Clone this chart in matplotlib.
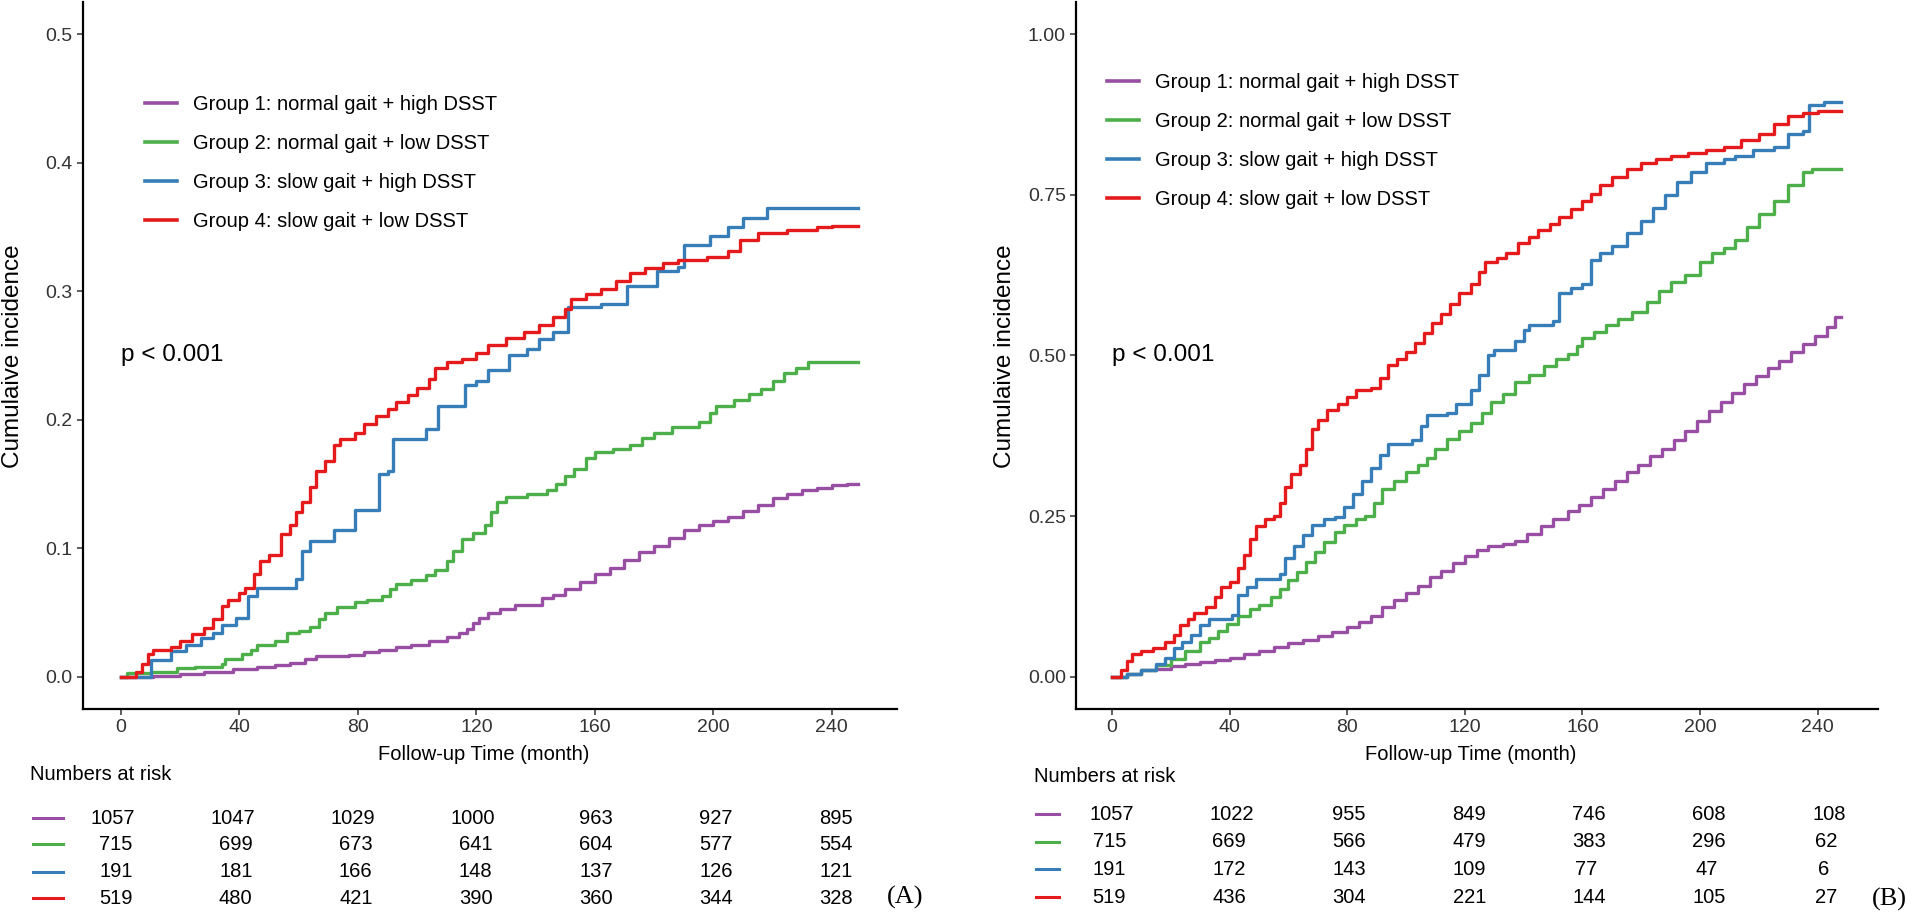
import matplotlib
matplotlib.use('Agg')
import matplotlib.pyplot as plt
from matplotlib.lines import Line2D
from matplotlib.ticker import FormatStrFormatter

plt.rcParams['font.family'] = ['Liberation Sans', 'DejaVu Sans']

# ---------------- data ----------------
group_labels = ['Group 1: normal gait + high DSST',
                'Group 2: normal gait + low DSST',
                'Group 3: slow gait + high DSST',
                'Group 4: slow gait + low DSST']
colors = ['#984EA3', '#4DAF4A', '#377EB8', '#E41A1C']
table_times = [0, 40, 80, 120, 160, 200, 240]
x_ticks = [0, 40, 80, 120, 160, 200, 240]
yticks_A = [0.0, 0.1, 0.2, 0.3, 0.4, 0.5]
yticks_B = [0.00, 0.25, 0.50, 0.75, 1.00]

# Panel A curves (month, cumulative incidence)
A1_t = [0, 11, 20, 28, 38, 46, 52, 57, 62, 66, 77, 82, 87, 93, 98, 104, 110, 114, 117, 119, 121, 124, 128, 133, 142, 146, 150, 155, 160, 165, 170, 175, 180, 185, 190, 195, 200, 205, 210, 215, 220, 225, 230, 235, 240, 245, 249]
A1_v = [0, 0.001, 0.002, 0.004, 0.006, 0.008, 0.009, 0.011, 0.014, 0.016, 0.017, 0.019, 0.021, 0.023, 0.025, 0.028, 0.031, 0.034, 0.037, 0.042, 0.046, 0.050, 0.053, 0.056, 0.061, 0.064, 0.068, 0.074, 0.080, 0.085, 0.091, 0.097, 0.102, 0.108, 0.114, 0.118, 0.121, 0.124, 0.129, 0.134, 0.139, 0.142, 0.145, 0.147, 0.149, 0.150, 0.150]
A2_t = [0, 2, 10, 19, 25, 34, 35, 41, 44, 46, 52, 56, 60, 64, 67, 69, 73, 79, 83, 88, 91, 93, 98, 103, 106, 110, 112, 115, 119, 123, 125, 127, 130, 137, 144, 147, 150, 153, 157, 160, 166, 172, 176, 180, 186, 195, 199, 201, 207, 212, 216, 220, 224, 228, 232, 249]
A2_v = [0, 0.003, 0.004, 0.007, 0.008, 0.010, 0.014, 0.018, 0.021, 0.025, 0.028, 0.034, 0.036, 0.039, 0.045, 0.050, 0.054, 0.058, 0.060, 0.063, 0.068, 0.072, 0.075, 0.079, 0.083, 0.090, 0.098, 0.107, 0.112, 0.118, 0.128, 0.136, 0.140, 0.142, 0.145, 0.150, 0.156, 0.162, 0.170, 0.175, 0.177, 0.180, 0.186, 0.190, 0.194, 0.198, 0.205, 0.211, 0.215, 0.220, 0.224, 0.230, 0.236, 0.240, 0.245, 0.245]
A3_t = [0, 10, 17, 22, 27, 31, 34, 39, 43, 46, 59, 61, 64, 72, 79, 87, 90, 92, 103, 107, 116, 120, 124, 131, 137, 141, 146, 151, 162, 171, 181, 188, 190, 199, 205, 210, 218, 249]
A3_v = [0, 0.013, 0.020, 0.025, 0.030, 0.034, 0.040, 0.046, 0.063, 0.069, 0.076, 0.098, 0.106, 0.114, 0.130, 0.158, 0.160, 0.185, 0.193, 0.211, 0.227, 0.230, 0.239, 0.250, 0.255, 0.263, 0.268, 0.288, 0.290, 0.304, 0.316, 0.319, 0.336, 0.343, 0.350, 0.357, 0.365, 0.365]
A4_t = [0, 5, 7, 9, 11, 17, 20, 24, 28, 31, 34, 36, 40, 42, 45, 47, 50, 54, 57, 59, 61, 64, 66, 69, 72, 74, 79, 82, 86, 90, 93, 97, 100, 104, 106, 110, 115, 120, 124, 130, 136, 141, 146, 150, 152, 157, 162, 167, 172, 177, 183, 188, 198, 205, 209, 215, 225, 235, 240, 249]
A4_v = [0, 0.004, 0.010, 0.018, 0.021, 0.023, 0.028, 0.033, 0.038, 0.045, 0.055, 0.060, 0.065, 0.069, 0.080, 0.090, 0.095, 0.111, 0.118, 0.128, 0.136, 0.148, 0.160, 0.168, 0.180, 0.185, 0.190, 0.197, 0.203, 0.208, 0.214, 0.219, 0.225, 0.232, 0.240, 0.245, 0.247, 0.252, 0.258, 0.264, 0.268, 0.274, 0.280, 0.286, 0.294, 0.298, 0.302, 0.308, 0.314, 0.318, 0.322, 0.324, 0.327, 0.331, 0.340, 0.345, 0.348, 0.350, 0.351, 0.351]

# Panel B curves
B1_t = [0, 5, 10, 15, 20, 25, 30, 35, 40, 45, 50, 55, 60, 65, 70, 75, 80, 84, 88, 92, 96, 100, 104, 108, 112, 116, 120, 124, 128, 133, 137, 141, 146, 150, 155, 159, 163, 167, 171, 175, 179, 183, 187, 191, 195, 199, 203, 207, 211, 215, 219, 223, 227, 231, 235, 239, 243, 246, 248]
B1_v = [0, 0.005, 0.010, 0.013, 0.017, 0.020, 0.023, 0.026, 0.030, 0.035, 0.040, 0.047, 0.053, 0.058, 0.063, 0.070, 0.078, 0.085, 0.095, 0.108, 0.120, 0.130, 0.142, 0.155, 0.165, 0.177, 0.188, 0.197, 0.203, 0.206, 0.212, 0.222, 0.235, 0.245, 0.258, 0.268, 0.280, 0.292, 0.305, 0.318, 0.330, 0.343, 0.355, 0.368, 0.382, 0.398, 0.413, 0.428, 0.442, 0.455, 0.468, 0.480, 0.492, 0.505, 0.518, 0.530, 0.545, 0.560, 0.560]
B2_t = [0, 5, 10, 15, 20, 25, 30, 33, 36, 39, 43, 47, 50, 54, 57, 60, 63, 66, 69, 72, 76, 79, 83, 86, 89, 92, 96, 100, 104, 107, 110, 114, 118, 122, 126, 129, 133, 137, 142, 147, 151, 155, 158, 160, 164, 168, 172, 177, 182, 186, 190, 195, 200, 204, 208, 212, 216, 220, 225, 230, 235, 238, 248]
B2_v = [0, 0.005, 0.010, 0.018, 0.028, 0.040, 0.055, 0.060, 0.072, 0.083, 0.095, 0.105, 0.112, 0.125, 0.137, 0.150, 0.163, 0.178, 0.195, 0.210, 0.225, 0.236, 0.245, 0.250, 0.270, 0.293, 0.305, 0.319, 0.330, 0.340, 0.355, 0.370, 0.383, 0.395, 0.410, 0.427, 0.440, 0.458, 0.470, 0.484, 0.495, 0.503, 0.515, 0.528, 0.537, 0.548, 0.557, 0.568, 0.583, 0.600, 0.615, 0.625, 0.645, 0.660, 0.668, 0.680, 0.700, 0.720, 0.740, 0.765, 0.785, 0.790, 0.790]
B3_t = [0, 5, 10, 15, 18, 21, 24, 27, 30, 33, 41, 43, 46, 49, 57, 59, 62, 65, 68, 72, 76, 79, 82, 85, 88, 91, 94, 102, 105, 107, 114, 117, 122, 125, 128, 130, 137, 140, 142, 150, 152, 156, 160, 163, 166, 170, 175, 180, 184, 188, 192, 197, 202, 208, 212, 218, 225, 230, 235, 237, 242, 248]
B3_v = [0, 0.005, 0.010, 0.020, 0.030, 0.045, 0.055, 0.065, 0.080, 0.090, 0.096, 0.128, 0.140, 0.153, 0.160, 0.185, 0.204, 0.220, 0.236, 0.245, 0.249, 0.265, 0.285, 0.305, 0.325, 0.345, 0.363, 0.369, 0.390, 0.408, 0.411, 0.425, 0.446, 0.470, 0.500, 0.509, 0.522, 0.540, 0.548, 0.554, 0.598, 0.605, 0.611, 0.649, 0.660, 0.670, 0.690, 0.710, 0.730, 0.750, 0.770, 0.785, 0.800, 0.805, 0.810, 0.820, 0.825, 0.845, 0.850, 0.890, 0.895, 0.895]
B4_t = [0, 3, 5, 7, 10, 14, 18, 21, 23, 26, 28, 32, 35, 37, 40, 43, 45, 47, 49, 52, 55, 57, 59, 61, 64, 66, 68, 70, 73, 77, 80, 83, 88, 91, 94, 97, 100, 103, 106, 109, 112, 115, 118, 122, 125, 127, 131, 134, 138, 142, 145, 149, 152, 156, 160, 163, 166, 170, 175, 180, 185, 190, 196, 202, 208, 214, 220, 225, 230, 235, 240, 248]
B4_v = [0, 0.010, 0.025, 0.035, 0.040, 0.045, 0.055, 0.065, 0.080, 0.090, 0.100, 0.108, 0.125, 0.140, 0.147, 0.170, 0.190, 0.215, 0.235, 0.245, 0.250, 0.270, 0.295, 0.315, 0.330, 0.355, 0.385, 0.400, 0.415, 0.425, 0.435, 0.446, 0.450, 0.465, 0.485, 0.495, 0.505, 0.520, 0.535, 0.550, 0.565, 0.580, 0.598, 0.612, 0.630, 0.645, 0.652, 0.660, 0.675, 0.685, 0.695, 0.705, 0.715, 0.728, 0.740, 0.752, 0.765, 0.778, 0.790, 0.800, 0.806, 0.810, 0.815, 0.820, 0.825, 0.835, 0.845, 0.860, 0.872, 0.878, 0.880, 0.880]

risk_A = [[1057, 1047, 1029, 1000, 963, 927, 895],
          [715, 699, 673, 641, 604, 577, 554],
          [191, 181, 166, 148, 137, 126, 121],
          [519, 480, 421, 390, 360, 344, 328]]
risk_B = [[1057, 1022, 955, 849, 746, 608, 108],
          [715, 669, 566, 479, 383, 296, 62],
          [191, 172, 143, 109, 77, 47, 6],
          [519, 436, 304, 221, 144, 105, 27]]

curves_A = [(A1_t, A1_v), (A2_t, A2_v), (A3_t, A3_v), (A4_t, A4_v)]
curves_B = [(B1_t, B1_v), (B2_t, B2_v), (B3_t, B3_v), (B4_t, B4_v)]

# ---------------- layout ----------------
W, H = 1908, 915
fig = plt.figure(figsize=(W / 100, H / 100), dpi=100)


def fx(px):
    return px / W


def fy(py):
    return 1 - py / H


def make_panel(left, right, xlim, ylim, yticks, yfmt, curves, legend_xy, pval_y,
               ylab_x, xlab_x):
    ax = fig.add_axes([fx(left), fy(709), (right - left) / W, (709 - 2) / H])
    for (t, v), c in zip(curves, colors):
        ax.step(t, v, where='post', color=c, lw=2.4)
    ax.set_xlim(*xlim)
    ax.set_ylim(*ylim)
    ax.set_xticks(x_ticks)
    ax.set_yticks(yticks)
    ax.yaxis.set_major_formatter(FormatStrFormatter(yfmt))
    for s in ['top', 'right']:
        ax.spines[s].set_visible(False)
    for s in ['left', 'bottom']:
        ax.spines[s].set_linewidth(1.6)
        ax.spines[s].set_color('black')
    ax.tick_params(length=4.3, width=1.1, color='#333333', labelsize=14,
                   labelcolor='#333333', pad=3)
    handles = [Line2D([0], [0], color=c, lw=2.6) for c in colors]
    ax.legend(handles, group_labels, loc='upper left',
              bbox_to_anchor=(fx(legend_xy[0]), fy(legend_xy[1])),
              bbox_transform=fig.transFigure, frameon=False, fontsize=14.5,
              handlelength=1.6, handletextpad=0.8, labelspacing=1.0,
              borderpad=0, borderaxespad=0)
    ax.text(0, pval_y, 'p < 0.001', fontsize=17.5, ha='left', va='center')
    fig.text(fx(ylab_x), fy(356), 'Cumulaive incidence', rotation=90,
             fontsize=17.5, ha='center', va='center')
    fig.text(fx(xlab_x), fy(755), 'Follow-up Time (month)', fontsize=14.5,
             ha='center', va='center')
    return ax


def make_table(left, right, xlim, ylim, risk, pad_sign, title_xy, dash_x, dash_ys):
    tax = fig.add_axes([fx(left), fy(912), (right - left) / W, (912 - 800) / H])
    tax.axis('off')
    tax.set_xlim(*xlim)
    tax.set_ylim(*ylim)
    for i, row in enumerate(risk):
        for t, n in zip(table_times, row):
            s = str(n)
            off = pad_sign * (4 - len(s)) * 2.8
            tax.annotate(s, xy=(t, i), xytext=(off, 0), textcoords='offset pixels',
                         ha='center', va='center', fontsize=14.5,
                         annotation_clip=False)
    fig.text(fx(title_xy[0]), fy(title_xy[1]), 'Numbers at risk', fontsize=14.5,
             ha='left', va='center')
    for c, y in zip(colors, dash_ys):
        fig.add_artist(Line2D([fx(dash_x[0]), fx(dash_x[1])], [fy(y), fy(y)],
                              transform=fig.transFigure, color=c, lw=2.2))


# Panel A
make_panel(83, 897, (-12.8, 262), (-0.025, 0.525), yticks_A, '%.1f', curves_A,
           (145, 95), 0.25, 13, 484)
make_table(83, 897, (-10, 261.33), (3.525, -0.675), risk_A, 1, (30, 774),
           (33, 63), [818, 844, 872, 898])
fig.text(fx(905), fy(897), '(A)', family=['Liberation Serif', 'DejaVu Serif'],
         fontsize=19, ha='center', va='center')

# Panel B
make_panel(1076, 1878, (-12.2, 260.5), (-0.05, 1.05), yticks_B, '%.2f', curves_B,
           (1107, 73), 0.5, 1005, 1471)
make_table(1076, 1878, (-12, 255.3), (3.542, -0.506), risk_B, -1, (1034, 776),
           (1036, 1059), [814, 842, 869, 897])
fig.text(fx(1889), fy(899), '(B)', family=['Liberation Serif', 'DejaVu Serif'],
         fontsize=19, ha='center', va='center')

fig.savefig('out.png', dpi=100)
